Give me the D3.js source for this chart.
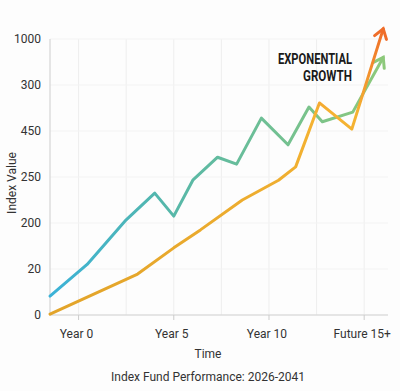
<!DOCTYPE html>
<html lang="en">
<head>
<meta charset="UTF-8">
<script src="https://d3js.org/d3.v7.min.js"></script>
<title>Index Fund Performance</title>
<style>
  body { margin: 0; background: #fdfdfd; }
  svg text { font-family: Roboto, "Noto Sans", sans-serif; fill: #333; }
</style>
</head>
<body>
<svg></svg>
<script>
// y tick labels as printed on the chart (evenly spaced, top to bottom reversed)
var yLabels = ["0", "20", "200", "250", "450", "300", "1000"];
var xTickYears = [0, 5, 10, 15];
var xTickLabels = ["Year 0", "Year 5", "Year 10", "Future 15+"];
var gridYears = [0, 2.5, 5, 7.5, 10, 12.5, 15];

// series: year, value in tick-position units
var greenYears = [-1.5, 0.45, 2.5, 4, 5, 6, 7.3, 8.3, 9.6, 11, 12.1, 12.8, 14.4, 16];
var greenVals  = [0.41, 1.1, 2.07, 2.65, 2.15, 2.93, 3.43, 3.28, 4.28, 3.7, 4.52, 4.2, 4.41, 5.6];
var orangeYears = [-1.5, 3.1, 5, 6.4, 8.6, 10.5, 11.4, 12.65, 14.35, 16];
var orangeVals  = [0.02, 0.89, 1.46, 1.85, 2.5, 2.93, 3.22, 4.61, 4.04, 6.22];

var W = 400, H = 391;
var svg = d3.select("svg").attr("width", W).attr("height", H);

var x = d3.scaleLinear().domain([-1.5, 16.25]).range([50, 388]);
var y = d3.scaleLinear().domain([0, 6]).range([315, 39]);

var defs = svg.append("defs");
var gG = defs.append("linearGradient").attr("id", "gGreen")
  .attr("gradientUnits", "userSpaceOnUse")
  .attr("x1", x(-1.5)).attr("x2", x(16)).attr("y1", 0).attr("y2", 0);
gG.append("stop").attr("offset", 0).attr("stop-color", "#3bb2d8");
gG.append("stop").attr("offset", 0.35).attr("stop-color", "#55b7aa");
gG.append("stop").attr("offset", 1).attr("stop-color", "#8dc97b");

var gO = defs.append("linearGradient").attr("id", "gOrange")
  .attr("gradientUnits", "userSpaceOnUse")
  .attr("x1", 0).attr("x2", 0).attr("y1", y(0)).attr("y2", y(6.22));
gO.append("stop").attr("offset", 0).attr("stop-color", "#e2a42a");
gO.append("stop").attr("offset", 0.7).attr("stop-color", "#f5b332");
gO.append("stop").attr("offset", 1).attr("stop-color", "#ef6d2a");

// grid
svg.append("g").selectAll("line").data(gridYears).enter().append("line")
  .attr("x1", d => x(d)).attr("x2", d => x(d))
  .attr("y1", y(6)).attr("y2", y(0))
  .attr("stroke", "#eeeeee").attr("stroke-width", 1);
svg.append("g").selectAll("line").data(d3.range(1, 7)).enter().append("line")
  .attr("x1", x(-1.5)).attr("x2", 388)
  .attr("y1", d => y(d)).attr("y2", d => y(d))
  .attr("stroke", "#f3f3f3").attr("stroke-width", 1);

// axes
svg.append("line").attr("x1", x(-1.5)).attr("x2", x(-1.5)).attr("y1", y(6)).attr("y2", y(0))
  .attr("stroke", "#dddddd").attr("stroke-width", 1.5);
svg.append("line").attr("x1", x(-1.5)).attr("x2", 388).attr("y1", y(0)).attr("y2", y(0))
  .attr("stroke", "#dddddd").attr("stroke-width", 1.5);
svg.append("g").selectAll("line").data(xTickYears).enter().append("line")
  .attr("x1", d => x(d)).attr("x2", d => x(d))
  .attr("y1", y(0)).attr("y2", y(0) + 5)
  .attr("stroke", "#cccccc");

svg.append("g").selectAll("text").data(yLabels).enter().append("text")
  .attr("x", 41).attr("y", (d, i) => y(i)).attr("dy", "0.35em")
  .attr("text-anchor", "end").attr("font-size", 12).text(d => d);

svg.append("g").selectAll("text").data(xTickLabels).enter().append("text")
  .attr("x", (d, i) => x(xTickYears[i]) - 2).attr("y", 338)
  .attr("text-anchor", "middle").attr("font-size", 12).text(d => d);

svg.append("text").attr("transform", "translate(16,183) rotate(-90)")
  .attr("text-anchor", "middle").attr("font-size", 12).text("Index Value");
svg.append("text").attr("x", 208).attr("y", 358)
  .attr("text-anchor", "middle").attr("font-size", 12).text("Time");
svg.append("text").attr("x", 208).attr("y", 381)
  .attr("text-anchor", "middle").attr("font-size", 12).text("Index Fund Performance: 2026-2041");

// lines
var line = d3.line().x(d => x(d[0])).y(d => y(d[1]));
function drawSeries(years, vals, stroke, arrowColor) {
  var pts = years.map((d, i) => [d, vals[i]]);
  svg.append("path").datum(pts).attr("d", line)
    .attr("fill", "none").attr("stroke", stroke).attr("stroke-width", 3)
    .attr("stroke-linejoin", "round").attr("stroke-linecap", "round");
  var a = pts[pts.length - 2], b = pts[pts.length - 1];
  var ax = x(a[0]), ay = y(a[1]), bx = x(b[0]), by = y(b[1]);
  var ang = Math.atan2(by - ay, bx - ax), len = 11, spread = 0.6;
  var p1 = [bx - len * Math.cos(ang - spread), by - len * Math.sin(ang - spread)];
  var p2 = [bx - len * Math.cos(ang + spread), by - len * Math.sin(ang + spread)];
  svg.append("path")
    .attr("d", "M" + p1 + "L" + [bx, by] + "L" + p2)
    .attr("fill", "none").attr("stroke", arrowColor).attr("stroke-width", 3)
    .attr("stroke-linejoin", "miter").attr("stroke-linecap", "round");
}
drawSeries(greenYears, greenVals, "url(#gGreen)", "#8dc97b");
drawSeries(orangeYears, orangeVals, "url(#gOrange)", "#ef6d2a");

// annotation
var ann = svg.append("g").attr("font-weight", "bold").attr("font-size", 14);
ann.append("text").attr("x", 352).attr("y", 64).attr("text-anchor", "end")
  .attr("textLength", 74).attr("lengthAdjust", "spacingAndGlyphs")
  .style("fill", "#1a1a1a").text("EXPONENTIAL");
ann.append("text").attr("x", 352).attr("y", 81).attr("text-anchor", "end")
  .attr("textLength", 49).attr("lengthAdjust", "spacingAndGlyphs")
  .style("fill", "#1a1a1a").text("GROWTH");
</script>
</body>
</html>
